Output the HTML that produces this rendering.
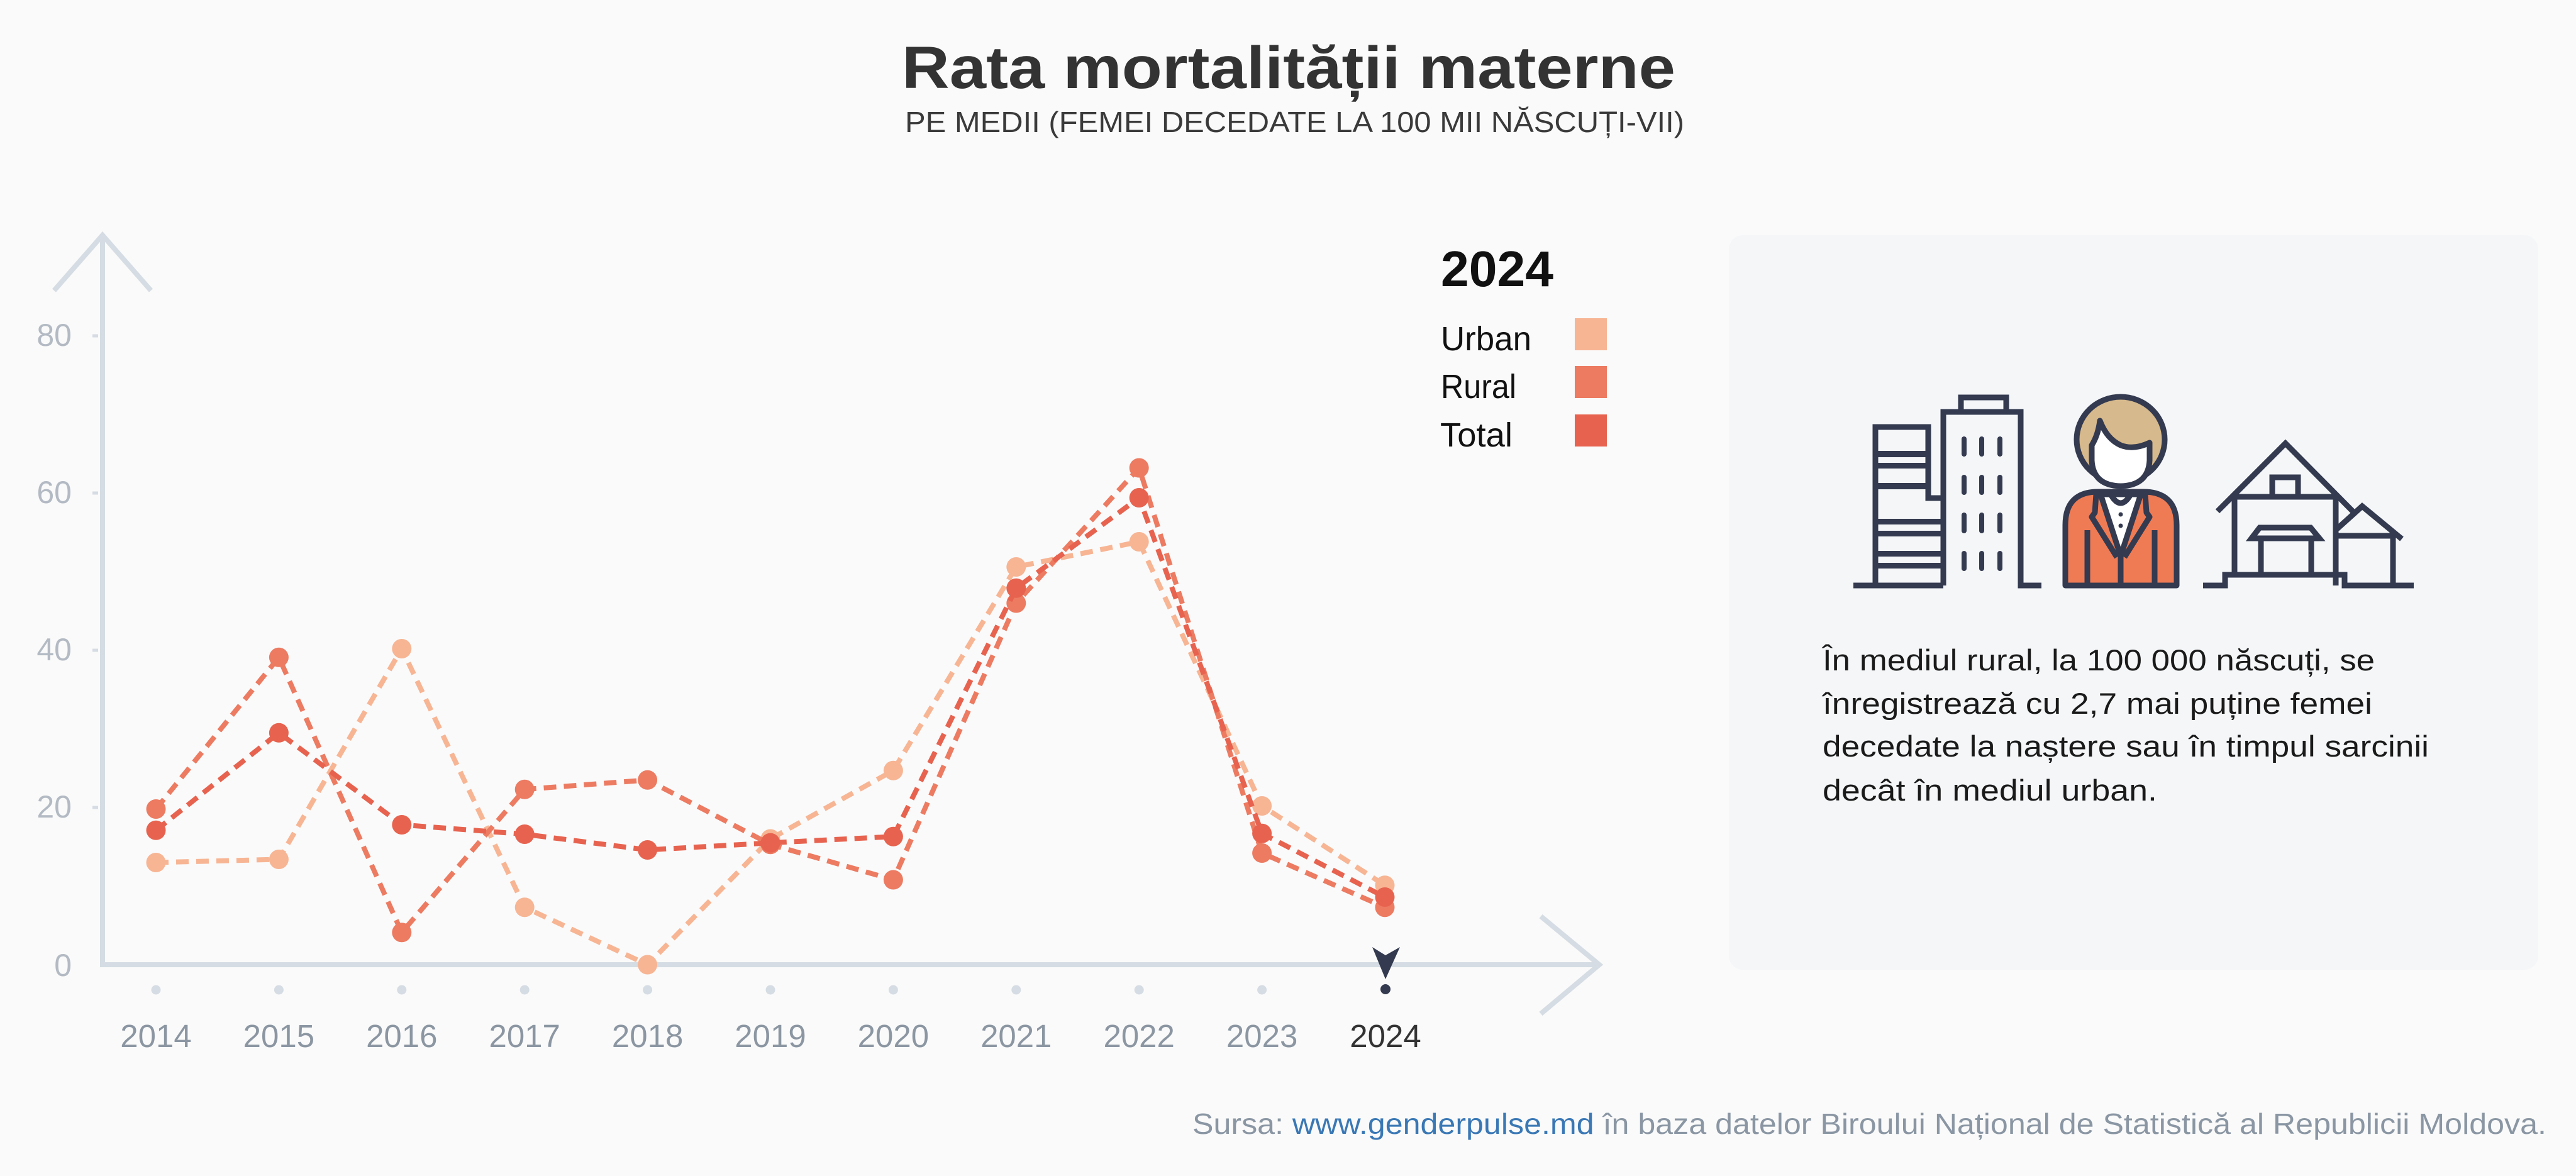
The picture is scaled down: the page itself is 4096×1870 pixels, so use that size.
<!DOCTYPE html>
<html>
<head>
<meta charset="utf-8">
<style>
  html,body{margin:0;padding:0;background:#fafafa;}
  svg{display:block;}
  text{font-family:"Liberation Sans","DejaVu Sans",sans-serif;}
</style>
</head>
<body>
<svg width="4096" height="1870" viewBox="0 0 4096 1870" xmlns="http://www.w3.org/2000/svg">
  <rect x="0" y="0" width="4096" height="1870" fill="#fafafa"/>

  <!-- Title -->
  <text x="1434" y="140" font-size="95" font-weight="bold" fill="#333333" textLength="1230" lengthAdjust="spacingAndGlyphs">Rata mortalității materne</text>
  <text x="1439" y="210" font-size="46" fill="#3a3a3a" textLength="1239" lengthAdjust="spacingAndGlyphs">PE MEDII (FEMEI DECEDATE LA 100 MII NĂSCUȚI-VII)</text>

  <!-- Axes -->
  <g stroke="#d5dce3" stroke-width="8" fill="none">
    <line x1="163" y1="372" x2="163" y2="1538"/>
    <polyline points="86,462 163,374 240,462"/>
    <line x1="159" y1="1534" x2="2540" y2="1534"/>
    <polyline points="2450,1457 2543,1534 2450,1612"/>
  </g>

  <!-- Y ticks -->
  <g stroke="#d5dce3" stroke-width="5">
    <line x1="147" y1="534" x2="156" y2="534"/>
    <line x1="147" y1="784" x2="156" y2="784"/>
    <line x1="147" y1="1034" x2="156" y2="1034"/>
    <line x1="147" y1="1284" x2="156" y2="1284"/>
  </g>
  <g font-size="50" fill="#b3bac3" text-anchor="end">
    <text x="114" y="550">80</text>
    <text x="114" y="800">60</text>
    <text x="114" y="1050">40</text>
    <text x="114" y="1300">20</text>
    <text x="114" y="1552">0</text>
  </g>

  <!-- X tick dots -->
  <g fill="#d5dce3">
    <circle cx="248" cy="1574" r="7.5"/>
    <circle cx="443.4" cy="1574" r="7.5"/>
    <circle cx="638.8" cy="1574" r="7.5"/>
    <circle cx="834.2" cy="1574" r="7.5"/>
    <circle cx="1029.6" cy="1574" r="7.5"/>
    <circle cx="1225" cy="1574" r="7.5"/>
    <circle cx="1420.4" cy="1574" r="7.5"/>
    <circle cx="1615.8" cy="1574" r="7.5"/>
    <circle cx="1811.2" cy="1574" r="7.5"/>
    <circle cx="2006.6" cy="1574" r="7.5"/>
  </g>
  <circle cx="2203" cy="1573" r="8" fill="#343a4f"/>
  <polygon points="2182,1506 2203,1519 2226,1506 2203,1557" fill="#343a4f"/>

  <!-- X labels -->
  <g font-size="51" fill="#8b96a2" text-anchor="middle">
    <text x="248" y="1665">2014</text>
    <text x="443.4" y="1665">2015</text>
    <text x="638.8" y="1665">2016</text>
    <text x="834.2" y="1665">2017</text>
    <text x="1029.6" y="1665">2018</text>
    <text x="1225" y="1665">2019</text>
    <text x="1420.4" y="1665">2020</text>
    <text x="1615.8" y="1665">2021</text>
    <text x="1811.2" y="1665">2022</text>
    <text x="2006.6" y="1665">2023</text>
    <text x="2203" y="1665" fill="#333333">2024</text>
  </g>

  <!-- Series: Urban -->
  <g>
    <polyline fill="none" stroke="#f7b594" stroke-width="8" stroke-dasharray="20 12"
      points="248,1371.5 443.4,1366.5 638.8,1031.5 834.2,1442.75 1029.6,1534 1225,1334 1420.4,1225.25 1615.8,901.5 1811.2,861.5 2006.6,1281.5 2202,1407.75"/>
    <g fill="#f7b594">
      <circle cx="248" cy="1371.5" r="15.5"/>
      <circle cx="443.4" cy="1366.5" r="15.5"/>
      <circle cx="638.8" cy="1031.5" r="15.5"/>
      <circle cx="834.2" cy="1442.75" r="15.5"/>
      <circle cx="1029.6" cy="1534" r="15.5"/>
      <circle cx="1225" cy="1334" r="15.5"/>
      <circle cx="1420.4" cy="1225.25" r="15.5"/>
      <circle cx="1615.8" cy="901.5" r="15.5"/>
      <circle cx="1811.2" cy="861.5" r="15.5"/>
      <circle cx="2006.6" cy="1281.5" r="15.5"/>
      <circle cx="2202" cy="1407.75" r="15.5"/>
    </g>
  </g>

  <!-- Series: Rural -->
  <g>
    <polyline fill="none" stroke="#ec7b62" stroke-width="8" stroke-dasharray="20 12"
      points="248,1286.5 443.4,1045.25 638.8,1482.75 834.2,1255.25 1029.6,1240.25 1225,1342.75 1420.4,1399 1615.8,959 1811.2,744 2006.6,1356.5 2202,1442.75"/>
    <g fill="#ec7b62">
      <circle cx="248" cy="1286.5" r="15.5"/>
      <circle cx="443.4" cy="1045.25" r="15.5"/>
      <circle cx="638.8" cy="1482.75" r="15.5"/>
      <circle cx="834.2" cy="1255.25" r="15.5"/>
      <circle cx="1029.6" cy="1240.25" r="15.5"/>
      <circle cx="1225" cy="1342.75" r="15.5"/>
      <circle cx="1420.4" cy="1399" r="15.5"/>
      <circle cx="1615.8" cy="959" r="15.5"/>
      <circle cx="1811.2" cy="744" r="15.5"/>
      <circle cx="2006.6" cy="1356.5" r="15.5"/>
      <circle cx="2202" cy="1442.75" r="15.5"/>
    </g>
  </g>

  <!-- Series: Total -->
  <g>
    <polyline fill="none" stroke="#e7634f" stroke-width="8" stroke-dasharray="20 12"
      points="248,1320.25 443.4,1165.25 638.8,1311.5 834.2,1326.5 1029.6,1351.5 1225,1340.25 1420.4,1330.25 1615.8,935.25 1811.2,791.5 2006.6,1325.25 2202,1426.5"/>
    <g fill="#e7634f">
      <circle cx="248" cy="1320.25" r="15.5"/>
      <circle cx="443.4" cy="1165.25" r="15.5"/>
      <circle cx="638.8" cy="1311.5" r="15.5"/>
      <circle cx="834.2" cy="1326.5" r="15.5"/>
      <circle cx="1029.6" cy="1351.5" r="15.5"/>
      <circle cx="1225" cy="1340.25" r="15.5"/>
      <circle cx="1420.4" cy="1330.25" r="15.5"/>
      <circle cx="1615.8" cy="935.25" r="15.5"/>
      <circle cx="1811.2" cy="791.5" r="15.5"/>
      <circle cx="2006.6" cy="1325.25" r="15.5"/>
      <circle cx="2202" cy="1426.5" r="15.5"/>
    </g>
  </g>

  <!-- Legend -->
  <text x="2291" y="455" font-size="80" font-weight="bold" fill="#111111" textLength="179" lengthAdjust="spacingAndGlyphs">2024</text>
  <text x="2291" y="557" font-size="54" fill="#111111" textLength="144" lengthAdjust="spacingAndGlyphs">Urban</text>
  <text x="2291" y="633" font-size="54" fill="#111111" textLength="120" lengthAdjust="spacingAndGlyphs">Rural</text>
  <text x="2290" y="710" font-size="54" fill="#111111" textLength="115" lengthAdjust="spacingAndGlyphs">Total</text>
  <rect x="2504" y="506" width="51" height="51" fill="#f7b594"/>
  <rect x="2504" y="582" width="51" height="51" fill="#ec7b62"/>
  <rect x="2504" y="659" width="51" height="51" fill="#e7634f"/>

  <!-- Info box -->
  <rect x="2749" y="374" width="1287" height="1168" rx="22" ry="22" fill="#f4f6f8"/>

  <!-- Icons -->
  <g stroke="#343a4f" stroke-width="9" fill="none" stroke-linejoin="miter">
    <!-- Short building -->
    <path d="M2947,931 H2982 V679 H3066 V792 H3090"/>
    <!-- Tall building -->
    <path d="M3090,931 V655 H3213 V931 H3246"/>
    <path d="M3118,655 V632 H3190 V655"/>
    <line x1="2982" y1="931" x2="3090" y2="931"/>
  </g>
  <g fill="#343a4f">
    <rect x="2982" y="717" width="84" height="10"/>
    <rect x="2982" y="736" width="84" height="9"/>
    <rect x="2982" y="768" width="84" height="10"/>
    <rect x="2982" y="825" width="108" height="9"/>
    <rect x="2982" y="844" width="108" height="9"/>
    <rect x="2982" y="876" width="108" height="9"/>
    <rect x="2982" y="895" width="108" height="9"/>
  </g>
  <g stroke="#343a4f" stroke-width="8" stroke-linecap="round">
    <line x1="3123" y1="698" x2="3123" y2="722"/>
    <line x1="3151" y1="698" x2="3151" y2="722"/>
    <line x1="3180" y1="698" x2="3180" y2="722"/>
    <line x1="3123" y1="759" x2="3123" y2="783"/>
    <line x1="3151" y1="759" x2="3151" y2="783"/>
    <line x1="3180" y1="759" x2="3180" y2="783"/>
    <line x1="3123" y1="819" x2="3123" y2="844"/>
    <line x1="3151" y1="819" x2="3151" y2="844"/>
    <line x1="3180" y1="819" x2="3180" y2="844"/>
    <line x1="3123" y1="880" x2="3123" y2="904"/>
    <line x1="3151" y1="880" x2="3151" y2="904"/>
    <line x1="3180" y1="880" x2="3180" y2="904"/>
  </g>

  <!-- Person -->
  <g stroke="#343a4f" stroke-width="9" stroke-linejoin="round">
    <ellipse cx="3372" cy="699" rx="70" ry="68" fill="#d6b98c"/>
    <path d="M3326,708 L3326,732 Q3328,772 3372,773 Q3416,772 3418,732 L3418,704 Q3392,716 3372,708 Q3350,698 3339,669 Q3336,692 3326,708 Z" fill="#ffffff"/>
    <path d="M3284,931 V835 Q3284,782 3336,782 H3408 Q3461,782 3461,835 V931 Z" fill="#ef7b55"/>
    <path d="M3340,786 L3372,884 L3404,786 Z" fill="#ffffff"/>
    <path d="M3333,786 L3331,815 L3326,822 L3366,886" fill="none"/>
    <path d="M3411,786 L3413,815 L3418,822 L3378,886" fill="none"/>
    <path d="M3356,786 Q3372,814 3388,786" fill="none"/>
    <line x1="3319" y1="843" x2="3319" y2="931"/>
    <line x1="3426" y1="843" x2="3426" y2="931"/>
    <line x1="3372" y1="884" x2="3372" y2="931"/>
  </g>
  <circle cx="3372" cy="818" r="3.5" fill="#343a4f"/>
  <circle cx="3372" cy="836" r="3.5" fill="#343a4f"/>

  <!-- House -->
  <g stroke="#343a4f" stroke-width="9" fill="none" stroke-linejoin="miter">
    <polyline points="3526,813 3634,705 3741,813"/>
    <line x1="3549" y1="790" x2="3718" y2="790"/>
    <line x1="3553" y1="790" x2="3553" y2="914"/>
    <line x1="3714" y1="790" x2="3714" y2="931"/>
    <rect x="3613" y="759" width="41" height="31"/>
    <path d="M3580,856 L3593,839 H3674 L3688,856 Z"/>
    <line x1="3595" y1="856" x2="3595" y2="914"/>
    <line x1="3675" y1="856" x2="3675" y2="914"/>
    <path d="M3503,931 H3538 V914 H3728 V931 H3838"/>
    <polyline points="3716,841 3756,805 3819,857"/>
    <line x1="3714" y1="852" x2="3806" y2="852"/>
    <line x1="3805" y1="852" x2="3805" y2="931"/>
  </g>

  <!-- Paragraph -->
  <g font-size="47" fill="#1a1a1a">
    <text x="2898" y="1066" textLength="878" lengthAdjust="spacingAndGlyphs">În mediul rural, la 100 000 născuți, se</text>
    <text x="2898" y="1135" textLength="874" lengthAdjust="spacingAndGlyphs">înregistrează cu 2,7 mai puține femei</text>
    <text x="2898" y="1203" textLength="964" lengthAdjust="spacingAndGlyphs">decedate la naștere sau în timpul sarcinii</text>
    <text x="2898" y="1273" textLength="532" lengthAdjust="spacingAndGlyphs">decât în mediul urban.</text>
  </g>

  <!-- Source -->
  <text x="1896" y="1803" font-size="46" fill="#8a96a3" textLength="2153" lengthAdjust="spacingAndGlyphs">Sursa: <tspan fill="#3a78b5">www.genderpulse.md</tspan> în baza datelor Biroului Național de Statistică al Republicii Moldova.</text>
</svg>
</body>
</html>
